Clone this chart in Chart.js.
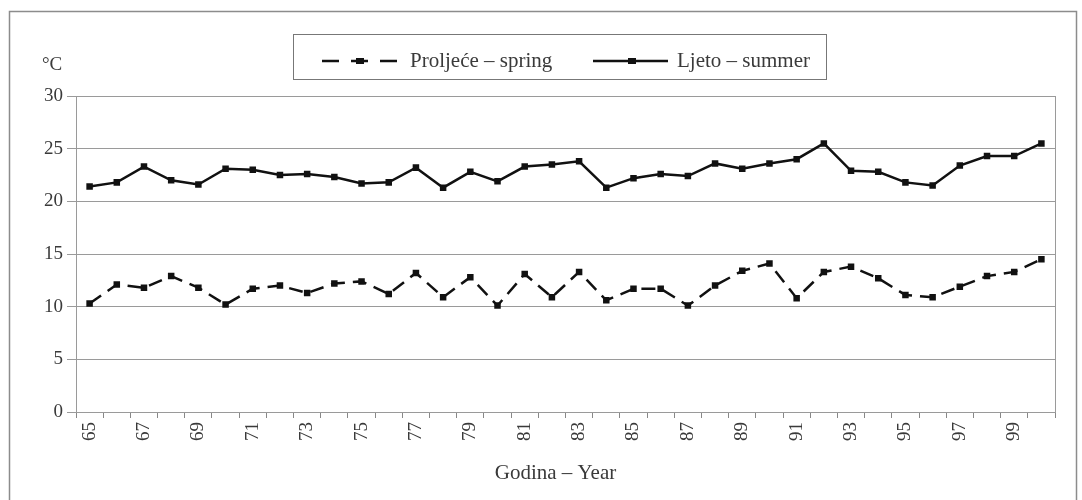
<!DOCTYPE html>
<html lang="hr">
<head>
    <meta charset="UTF-8">
    <title>Proljeće i ljeto - temperatura</title>
    <script src="https://cdn.jsdelivr.net/npm/chart.js"></script>
    <style>
      body {
          margin: 0;
          padding: 0;
          background: #ffffff;
      }
      .wrap {
          width: 1082px;
          height: 500px;
      }
    </style>
</head>
<body>
    <div class="wrap">
        <canvas id="tempChart" width="1082" height="500"></canvas>
    </div>
    <script>
    const years = ['65','66','67','68','69','70','71','72','73','74','75','76','77','78','79','80','81','82',
                   '83','84','85','86','87','88','89','90','91','92','93','94','95','96','97','98','99','00'];
    const spring = [10.3,12.1,11.8,12.9,11.8,10.2,11.7,12.0,11.3,12.2,12.4,11.2,13.2,10.9,12.8,10.1,13.1,10.9,
                    13.3,10.6,11.7,11.7,10.1,12.0,13.4,14.1,10.8,13.3,13.8,12.7,11.1,10.9,11.9,12.9,13.3,14.5];
    const summer = [21.4,21.8,23.3,22.0,21.6,23.1,23.0,22.5,22.6,22.3,21.7,21.8,23.2,21.3,22.8,21.9,23.3,23.5,
                    23.8,21.3,22.2,22.6,22.4,23.6,23.1,23.6,24.0,25.5,22.9,22.8,21.8,21.5,23.4,24.3,24.3,25.5];
    const yTicks = [0, 5, 10, 15, 20, 25, 30];

    const serif = "'Liberation Serif', 'DejaVu Serif', serif";

    // frame, plot box, legend box and the free texts
    const decor = {
        id: 'decor',
        beforeDatasetsDraw(chart) {
            const ctx = chart.ctx;
            const a = chart.chartArea;
            ctx.save();
            ctx.strokeStyle = '#9a9a9a';
            ctx.lineWidth = 1;
            ctx.strokeRect(Math.round(a.left) + 0.5, Math.round(a.top) + 0.5,
                           Math.round(a.right - a.left), Math.round(a.bottom - a.top));
            ctx.restore();
        },
        afterDraw(chart) {
            const ctx = chart.ctx;
            const a = chart.chartArea;
            ctx.save();
            ctx.strokeStyle = '#8c8c8c';
            ctx.lineWidth = 1.5;
            ctx.strokeRect(9.5, 11.5, 1067, 520);

            ctx.fillStyle = '#3a3a3a';
            ctx.textBaseline = 'middle';
            ctx.textAlign = 'left';
            ctx.font = '19px ' + serif;
            ctx.fillText('°C', 42, 65);
            ctx.font = '21px ' + serif;
            ctx.textAlign = 'center';
            ctx.fillText('Godina – Year', (a.left + a.right) / 2 - 10, 473);

            // legend
            ctx.strokeStyle = '#777';
            ctx.lineWidth = 1;
            ctx.strokeRect(293.5, 34.5, 533, 45);
            ctx.strokeStyle = '#111';
            ctx.fillStyle = '#111';
            ctx.lineWidth = 2.5;
            ctx.setLineDash([17, 12]);
            ctx.beginPath(); ctx.moveTo(322, 61); ctx.lineTo(397, 61); ctx.stroke();
            ctx.setLineDash([]);
            ctx.fillRect(356, 58, 8, 6);
            ctx.beginPath(); ctx.moveTo(593, 61); ctx.lineTo(668, 61); ctx.stroke();
            ctx.fillRect(628, 58, 8, 6);
            ctx.fillStyle = '#3a3a3a';
            ctx.textAlign = 'left';
            ctx.fillText('Proljeće – spring', 410, 61);
            ctx.fillText('Ljeto – summer', 677, 61);
            ctx.restore();
        }
    };

    const ctx = document.getElementById('tempChart').getContext('2d');
    const chart = new Chart(ctx, {
        type: 'line',
        data: {
            labels: years,
            datasets: [{
                label: 'Proljeće – spring',
                data: spring,
                borderColor: '#111',
                backgroundColor: '#111',
                borderWidth: 2.5,
                borderDash: [14, 8],
                pointStyle: 'rect',
                pointRadius: 4.6,
                pointBorderWidth: 0,
                fill: false,
                tension: 0
            }, {
                label: 'Ljeto – summer',
                data: summer,
                borderColor: '#111',
                backgroundColor: '#111',
                borderWidth: 2.5,
                pointStyle: 'rect',
                pointRadius: 4.6,
                pointBorderWidth: 0,
                fill: false,
                tension: 0
            }]
        },
        options: {
            responsive: false,
            animation: false,
            layout: { padding: { top: 96, right: 27, bottom: 0, left: 0 } },
            plugins: {
                legend: { display: false },
                tooltip: { enabled: false }
            },
            scales: {
                x: {
                    offset: true,
                    afterFit(s) { s.height = 88; },
                    grid: {
                        offset: true,
                        drawOnChartArea: false,
                        drawTicks: true,
                        tickLength: 6,
                        color: '#888'
                    },
                    border: { color: '#9a9a9a' },
                    ticks: {
                        autoSkip: false,
                        maxRotation: 90,
                        minRotation: 90,
                        padding: 4,
                        color: '#3a3a3a',
                        font: { family: serif, size: 19 },
                        callback: (v, i) => (i % 2 === 0 ? years[i] : '')
                    }
                },
                y: {
                    min: 0,
                    max: 30,
                    afterFit(s) { s.width = 76; },
                    afterBuildTicks(s) { s.ticks = yTicks.map(v => ({ value: v })); },
                    grid: { color: '#9a9a9a', tickLength: 9 },
                    border: { color: '#9a9a9a' },
                    ticks: {
                        padding: 4,
                        color: '#3a3a3a',
                        font: { family: serif, size: 19 }
                    }
                }
            }
        },
        plugins: [decor]
    });
    </script>
</body>
</html>
